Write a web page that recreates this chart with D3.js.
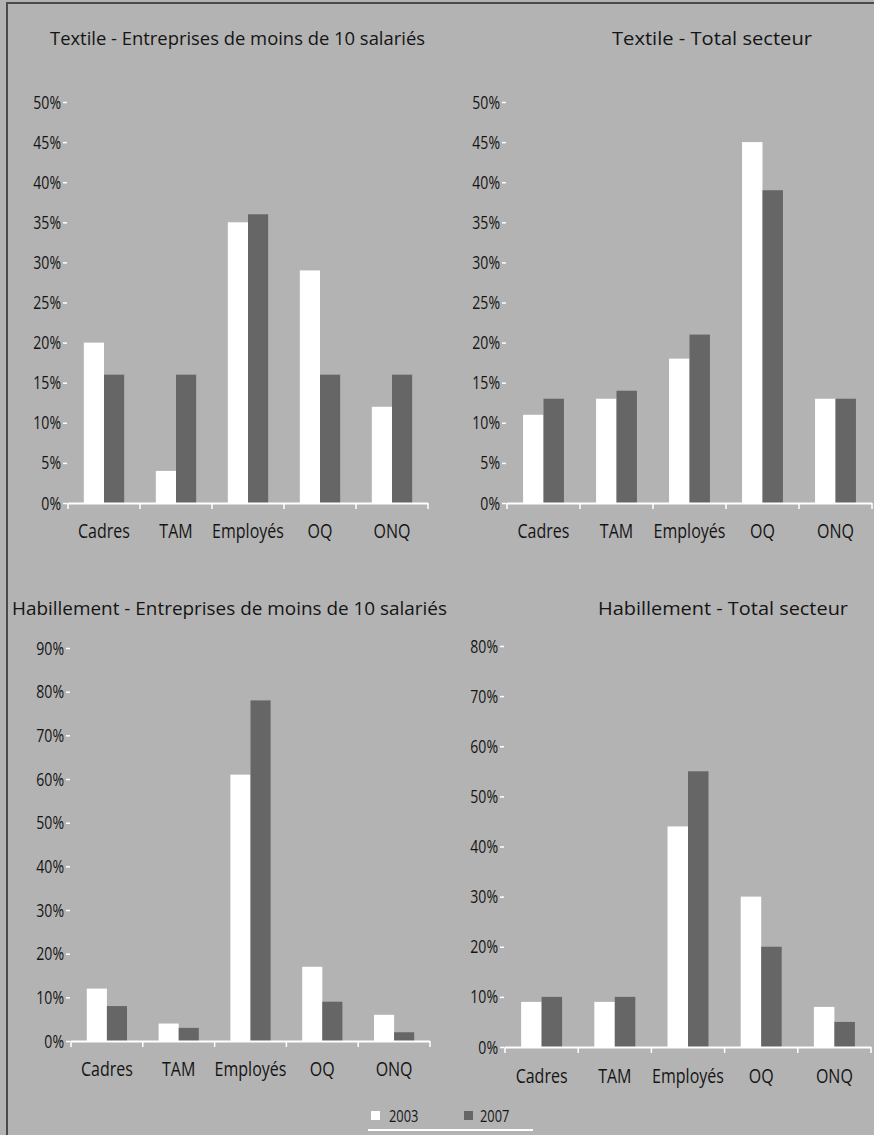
<!DOCTYPE html>
<html>
<head>
<meta charset="utf-8">
<script src="https://cdn.jsdelivr.net/npm/d3@7"></script>
<style>
  html, body { margin: 0; padding: 0; background: #fff; }
  svg { display: block; }
  text { font-family: "Open Sans", "Noto Sans", sans-serif; fill: #151515; font-weight: 500; }
</style>
</head>
<body>
<svg id="chart" width="874" height="1135"></svg>
<script>
// ---- data ----
const categories = ["Cadres", "TAM", "Employés", "OQ", "ONQ"];
const seriesNames = ["2003", "2007"];

const textileSmall2003 = [20, 4, 35, 29, 12];
const textileSmall2007 = [16, 16, 36, 16, 16];
const textileTotal2003 = [11, 13, 18, 45, 13];
const textileTotal2007 = [13, 14, 21, 39, 13];
const habSmall2003 = [12, 4, 61, 17, 6];
const habSmall2007 = [8, 3, 78, 9, 2];
const habTotal2003 = [9, 9, 44, 30, 8];
const habTotal2007 = [10, 10, 55, 20, 5];

const ticksTextile = [0, 5, 10, 15, 20, 25, 30, 35, 40, 45, 50];
const ticksHabSmall = [0, 10, 20, 30, 40, 50, 60, 70, 80, 90];
const ticksHabTotal = [0, 10, 20, 30, 40, 50, 60, 70, 80];

const titles = [
  "Textile -  Entreprises de moins de 10 salariés",
  "Textile - Total secteur",
  "Habillement - Entreprises de moins de 10 salariés",
  "Habillement - Total secteur"
];

// ---- layout (positions only) ----
const BG = "#b3b3b3", WHITE = "#ffffff", DARK = "#666666";
const colors = [WHITE, DARK];

const panels = [
  { title: titles[0], a: textileSmall2003, b: textileSmall2007, ticks: ticksTextile,
    x0: 68, x1: 428, yBase: 503, yTop: 102, titleX: 50, titleY: 45, titleLen: 375, labelY: 538 },
  { title: titles[1], a: textileTotal2003, b: textileTotal2007, ticks: ticksTextile,
    x0: 507, x1: 872, yBase: 503, yTop: 102, titleX: 612, titleY: 45, titleLen: 200, labelY: 538 },
  { title: titles[2], a: habSmall2003, b: habSmall2007, ticks: ticksHabSmall,
    x0: 71, x1: 430, yBase: 1041, yTop: 648, titleX: 12, titleY: 615, titleLen: 435, labelY: 1076 },
  { title: titles[3], a: habTotal2003, b: habTotal2007, ticks: ticksHabTotal,
    x0: 505, x1: 871, yBase: 1047, yTop: 646, titleX: 598, titleY: 615, titleLen: 250, labelY: 1083 }
];

function squeeze(sel, factor) {
  sel.each(function () {
    const w = this.getComputedTextLength();
    d3.select(this).attr("textLength", w * factor).attr("lengthAdjust", "spacingAndGlyphs");
  });
}

const svg = d3.select("#chart");
svg.append("rect").attr("x", 0).attr("y", 0).attr("width", 874).attr("height", 1135).attr("fill", BG);
// frame (left + top)
svg.append("line").attr("x1", 7).attr("x2", 7).attr("y1", 3).attr("y2", 1135)
  .attr("stroke", "#4a4a4a").attr("stroke-width", 2);
svg.append("line").attr("x1", 6).attr("x2", 874).attr("y1", 3).attr("y2", 3)
  .attr("stroke", "#4a4a4a").attr("stroke-width", 2);

panels.forEach(p => {
  const g = svg.append("g");
  const maxV = p.ticks[p.ticks.length - 1];
  const y = d3.scaleLinear().domain([0, maxV]).range([p.yBase, p.yTop]);
  const x = d3.scaleBand().domain(categories).range([p.x0, p.x1])
    .paddingInner(0.44).paddingOuter(0.22);
  const xs = d3.scaleBand().domain(seriesNames).range([0, x.bandwidth()]);

  // title
  g.append("text").attr("x", p.titleX).attr("y", p.titleY)
    .attr("font-size", 19).attr("textLength", p.titleLen).attr("lengthAdjust", "spacingAndGlyphs")
    .text(p.title);

  // y axis (ticks only, no domain)
  const yAxis = d3.axisLeft(y).tickValues(p.ticks).tickSize(4).tickPadding(2)
    .tickFormat(d => d + "%");
  const ya = g.append("g").attr("transform", `translate(${p.x0 - 1},0)`).call(yAxis);
  ya.select(".domain").remove();
  ya.selectAll(".tick line").attr("stroke", WHITE).attr("stroke-width", 1.5);
  const yt = ya.selectAll(".tick text").attr("font-size", 19).attr("fill", "#151515")
    .attr("font-family", "'Open Sans', sans-serif").attr("font-weight", 500);
  squeeze(yt, 0.74);

  // bars
  const data = categories.map((c, i) => ({ c, vals: [p.a[i], p.b[i]] }));
  const grp = g.selectAll(".grp").data(data).enter().append("g")
    .attr("transform", d => `translate(${x(d.c)},0)`);
  grp.selectAll("rect").data(d => d.vals.map((v, j) => ({ s: seriesNames[j], v, j })))
    .enter().append("rect")
    .attr("x", d => xs(d.s))
    .attr("width", xs.bandwidth())
    .attr("y", d => y(d.v))
    .attr("height", d => y(0) - y(d.v))
    .attr("fill", d => colors[d.j]);

  // x baseline + boundary ticks
  g.append("line").attr("x1", p.x0).attr("x2", p.x1).attr("y1", p.yBase + 0.5).attr("y2", p.yBase + 0.5)
    .attr("stroke", WHITE).attr("stroke-width", 2);
  const step = x.step();
  const bounds = d3.range(categories.length + 1).map(i => p.x0 + i * step);
  g.selectAll(".bt").data(bounds).enter().append("line")
    .attr("x1", d => d).attr("x2", d => d)
    .attr("y1", p.yBase).attr("y2", p.yBase + 6)
    .attr("stroke", WHITE).attr("stroke-width", 1.5);

  // category labels
  const cl = g.selectAll(".cl").data(categories).enter().append("text")
    .attr("x", d => x(d) + x.bandwidth() / 2)
    .attr("y", p.labelY)
    .attr("text-anchor", "middle")
    .attr("font-size", 20)
    .text(d => d);
  squeeze(cl, 0.8);
});

// legend
const legend = svg.append("g");
const legendItems = [
  { name: seriesNames[0], color: WHITE, sx: 371, tx: 389 },
  { name: seriesNames[1], color: DARK, sx: 464, tx: 480 }
];
legendItems.forEach(it => {
  legend.append("rect").attr("x", it.sx).attr("y", 1111).attr("width", 9).attr("height", 9).attr("fill", it.color);
  const t = legend.append("text").attr("x", it.tx).attr("y", 1122).attr("font-size", 16).text(it.name);
  squeeze(t, 0.8);
});
legend.append("line").attr("x1", 368).attr("x2", 533).attr("y1", 1130).attr("y2", 1130)
  .attr("stroke", WHITE).attr("stroke-width", 2);
</script>
</body>
</html>
